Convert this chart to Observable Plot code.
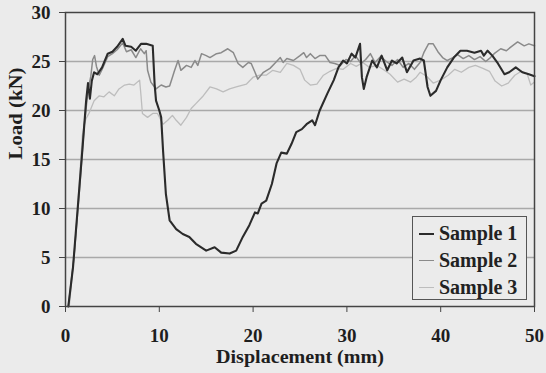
<!DOCTYPE html>
<html><head><meta charset="utf-8">
<script src="https://cdn.jsdelivr.net/npm/d3@7"></script>
<script src="https://cdn.jsdelivr.net/npm/@observablehq/plot@0.6"></script>
<style>
html,body{margin:0;padding:0;background:#ebebeb;}
#wrap{position:relative;width:546px;height:373px;overflow:hidden;}
#legend{position:absolute;left:412px;top:216px;width:115px;height:84px;border:1.5px solid #555;background:#ebebeb;box-sizing:border-box;font:bold 20px "Liberation Serif",serif;color:#222;padding-top:3px;}
.item{display:flex;align-items:center;height:27px;}
.sw{display:inline-block;width:15px;margin:0 5px 0 6px;}
</style></head>
<body><div id="wrap"><div id="chart"></div><div id="legend"></div></div>
<script>
const seriesNames = ["Sample 1", "Sample 2", "Sample 3"];
const seriesColors = ["#2b2b2b", "#8a8a8a", "#bdbdbd"];
const seriesWidths = [2.1, 1.5, 1.3];
const xTicks = [0, 10, 20, 30, 40, 50];
const yTicks = [0, 5, 10, 15, 20, 25, 30];
const xTitle = "Displacement (mm)";
const yTitle = "Load (kN)";

const sample1 = [[0.3,0],[0.8,4],[1.3,10],[1.8,16],[2.2,21],[2.4,22.8],[2.6,21.2],[2.8,23],[3.05,23.9],[3.4,23.7],[3.9,24.4],[4.5,25.8],[5.0,26.0],[5.5,26.5],[6.1,27.3],[6.4,26.6],[7.0,26.5],[7.5,26.1],[8.05,26.8],[8.6,26.8],[9.3,26.6],[9.5,22.7],[9.65,21.0],[10.0,20.0],[10.2,19.3],[10.4,15.9],[10.7,11.5],[11.1,8.8],[11.8,7.9],[12.5,7.4],[13.2,7.1],[13.9,6.4],[15.0,5.7],[15.9,6.05],[16.6,5.5],[17.5,5.4],[18.2,5.7],[18.9,7.1],[19.6,8.3],[20.2,9.6],[20.5,9.5],[20.9,10.5],[21.4,10.8],[22.0,12.5],[22.5,14.6],[23.0,15.7],[23.6,15.6],[24.1,16.6],[24.6,17.8],[25.2,18.1],[25.7,18.6],[26.3,19.0],[26.6,18.5],[27.1,20.0],[27.9,21.7],[28.6,23.1],[29.1,24.4],[29.6,25.1],[30.0,24.8],[30.5,25.8],[30.9,25.4],[31.4,26.8],[31.6,23.4],[31.8,22.2],[32.1,23.4],[32.7,25.1],[33.2,24.4],[33.7,25.6],[34.3,24.1],[34.8,25.1],[35.3,24.8],[35.9,25.4],[36.4,23.9],[37.1,25.1],[37.8,25.3],[38.2,25.1],[38.6,22.4],[38.9,21.5],[39.5,22.0],[40.0,23.1],[40.7,24.4],[41.4,25.4],[42.1,26.1],[42.8,26.1],[43.6,25.9],[44.3,26.1],[44.6,25.6],[45.0,26.1],[45.5,25.6],[46.1,24.8],[46.8,23.7],[47.3,23.9],[48.0,24.4],[48.7,23.9],[49.4,23.7],[50,23.5]];

const sample2 = [[0.3,0],[0.9,5],[1.5,12],[2.0,18.5],[2.4,22],[2.7,23.5],[2.9,25.2],[3.1,25.6],[3.3,24.5],[3.6,23.6],[3.9,24.2],[4.5,25.5],[5.0,25.8],[5.5,26.2],[6.1,26.9],[6.5,26.0],[7.0,26.2],[7.5,25.4],[8.0,26.3],[8.4,25.8],[8.6,26.1],[8.75,24.1],[9.1,22.9],[9.65,22.2],[10.2,22.6],[10.7,22.4],[11.1,22.5],[11.4,23.4],[11.6,24.0],[12.0,25.1],[12.3,24.1],[12.9,24.6],[13.4,24.4],[13.8,25.1],[14.1,24.6],[14.5,25.8],[15.0,25.6],[15.4,25.4],[16.1,25.8],[16.6,25.9],[17.3,26.3],[17.9,25.9],[18.4,24.8],[18.9,24.4],[19.5,24.9],[19.8,24.8],[20.2,23.9],[20.5,23.2],[21.1,23.9],[21.8,24.3],[22.3,24.8],[22.9,25.4],[23.2,24.9],[23.6,25.3],[24.3,25.1],[25.0,25.6],[25.4,25.9],[25.7,25.4],[26.1,25.8],[26.6,25.3],[27.1,25.6],[27.7,25.6],[28.2,24.9],[28.7,24.8],[29.3,24.6],[29.9,25.2],[30.4,25.0],[30.9,25.6],[31.5,24.8],[32.0,25.2],[32.5,25.8],[33.0,24.9],[33.6,25.5],[34.2,25.0],[34.8,24.6],[35.4,25.2],[36.0,24.4],[36.6,24.8],[37.2,24.2],[37.8,24.9],[38.2,25.9],[38.7,26.8],[39.2,26.8],[39.7,26.0],[40.2,25.4],[40.7,25.1],[41.3,25.4],[41.8,25.7],[42.4,25.3],[43.0,25.6],[43.6,25.2],[44.2,25.5],[44.8,25.0],[45.3,25.4],[45.7,25.8],[46.4,26.3],[47.0,26.1],[47.5,26.5],[48.2,27.0],[48.9,26.6],[49.4,26.8],[50,26.6]];

const sample3 = [[0.4,0],[1.0,6],[1.5,13],[1.8,17.5],[2.0,18.6],[2.2,19.2],[2.5,19.7],[3.05,21.0],[3.6,21.5],[4.1,21.4],[4.65,21.9],[5.2,21.5],[5.7,22.2],[6.3,22.6],[6.8,22.7],[7.3,22.6],[7.9,23.1],[8.05,21.5],[8.2,19.7],[8.75,19.3],[9.3,19.7],[9.8,19.7],[10.4,18.6],[10.9,19.0],[11.4,19.5],[11.8,19.0],[12.3,18.5],[12.9,19.3],[13.4,20.2],[13.9,20.7],[14.6,21.4],[15.4,22.4],[16.1,22.2],[16.8,21.9],[17.5,22.2],[18.2,22.4],[19.3,22.7],[20.0,23.4],[20.7,23.6],[21.4,23.6],[22.1,24.1],[22.9,23.9],[23.6,24.8],[24.3,24.6],[25.0,24.2],[25.5,23.1],[26.1,22.6],[26.8,22.7],[27.5,23.6],[28.2,24.0],[28.9,24.3],[29.6,24.2],[30.4,24.8],[31.0,24.5],[31.7,24.9],[32.4,24.4],[33.2,24.6],[34.0,24.1],[34.6,23.7],[35.4,22.9],[36.1,23.2],[36.8,22.9],[37.4,23.4],[37.8,23.9],[38.5,23.5],[39.2,22.8],[40.0,23.1],[40.8,23.6],[41.5,24.2],[42.2,23.9],[43.0,24.4],[43.7,24.6],[44.5,24.3],[45.2,24.0],[45.8,23.0],[46.5,22.5],[47.2,22.8],[47.9,23.6],[48.6,24.0],[49.2,23.8],[49.6,22.6],[50,22.9]];

const allSeries = [sample1, sample2, sample3];
const font = '"Liberation Serif", "Times New Roman", serif';

const lineMarks = [2, 1, 0].map(i =>
  Plot.line(allSeries[i], {x: d => d[0], y: d => d[1], stroke: seriesColors[i], strokeWidth: seriesWidths[i], strokeLinejoin: "round"})
);

const chart = Plot.plot({
  width: 546, height: 373,
  marginLeft: 65, marginRight: 12, marginTop: 12, marginBottom: 67,
  style: {background: "#ebebeb", fontFamily: font, fontWeight: "bold", fontSize: "19px", color: "#1e1e1e"},
  x: {domain: [0, 50], label: null},
  y: {domain: [0, 30], label: null},
  marks: [
    Plot.ruleY(yTicks.filter(t => t > 0 && t < 30), {stroke: "#a9a9a9", strokeWidth: 1.5}),
    Plot.axisX(xTicks, {tickSize: 6, tickPadding: 16, stroke: "#444", fontSize: 19, fontWeight: "bold", label: null}),
    Plot.axisY(yTicks, {tickSize: 6, tickPadding: 9, stroke: "#444", fontSize: 19, fontWeight: "bold", label: null}),
    ...lineMarks,
    Plot.frame({stroke: "#444", strokeWidth: 1.5}),
    Plot.text([xTitle], {text: d => d, frameAnchor: "bottom", dy: 56, fontSize: 19, fontWeight: "bold", fill: "#1e1e1e"}),
    Plot.text([yTitle], {text: d => d, frameAnchor: "left", dx: -50, rotate: -90, fontSize: 19, fontWeight: "bold", fill: "#1e1e1e"})
  ]
});
document.getElementById("chart").appendChild(chart);

// widen the titles to the scanned reference's proportions
d3.select(chart).selectAll("text").each(function () {
  const t = this.textContent;
  if (t === xTitle) { this.setAttribute("textLength", 168); this.setAttribute("lengthAdjust", "spacingAndGlyphs"); }
  if (t === yTitle) { this.setAttribute("textLength", 92); this.setAttribute("lengthAdjust", "spacingAndGlyphs"); }
});

const legend = document.getElementById("legend");
seriesNames.forEach((name, i) => {
  const row = document.createElement("div");
  row.className = "item";
  const sw = document.createElement("span");
  sw.className = "sw";
  sw.style.borderTop = `${seriesWidths[i]}px solid ${seriesColors[i]}`;
  row.appendChild(sw);
  row.appendChild(document.createTextNode(name));
  legend.appendChild(row);
});
</script></body></html>
